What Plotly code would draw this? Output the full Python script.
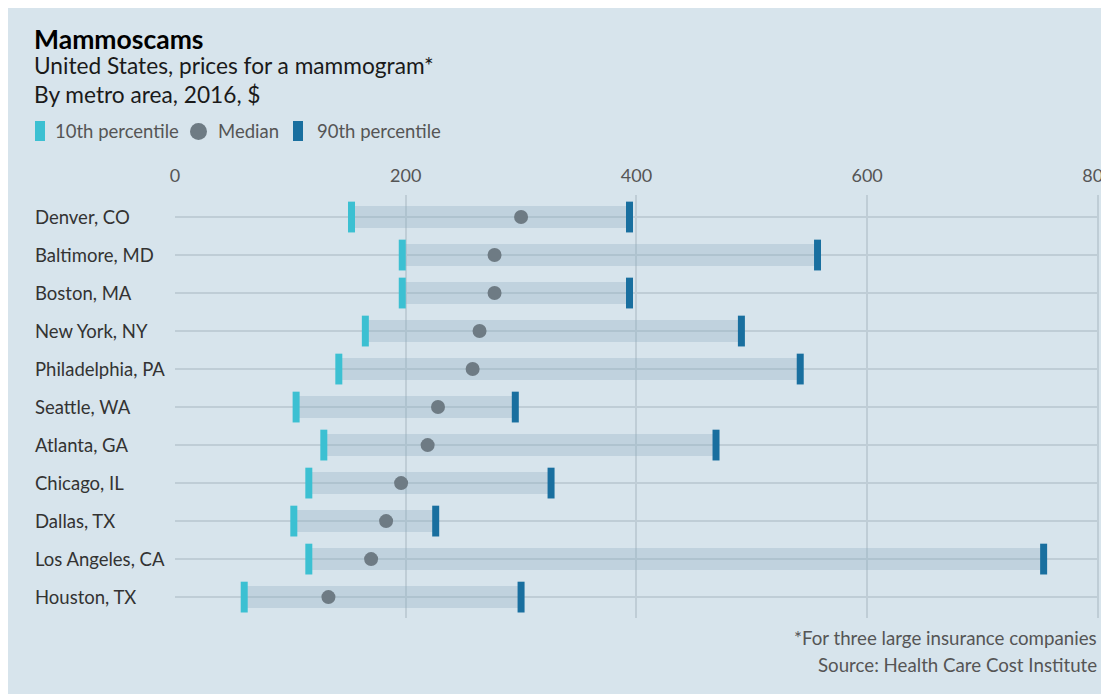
import plotly.graph_objects as go

cities = ["Denver, CO", "Baltimore, MD", "Boston, MA", "New York, NY", "Philadelphia, PA",
          "Seattle, WA", "Atlanta, GA", "Chicago, IL", "Dallas, TX", "Los Angeles, CA", "Houston, TX"]
p10 = [153, 197, 197, 165, 142, 105, 129, 116, 103, 116, 60]
median = [300, 277, 277, 264, 258, 228, 219, 196, 183, 170, 133]
p90 = [394, 557, 394, 491, 542, 295, 469, 326, 226, 753, 300]
x_ticks = [0, 200, 400, 600, 800]

BG = "#d7e4ec"
GRID = "#bfcdd6"
CYAN = "#3cc0d2"
DARK = "#196f9f"
GREY = "#6e7b84"
BAND = "rgba(142,175,193,0.32)"
FONT = "Lato"

W, H = 1093, 686
ML, MR, MT, MB = 167, 2, 187, 76
PW, PH = W - ML - MR, H - MT - MB

def xp(px):
    return (px - ML) / PW

def yp(py):
    return (H - MB - py) / PH

ypos = list(range(len(cities)))

fig = go.Figure()
fig.add_trace(go.Bar(
    y=ypos, x=[b - a for a, b in zip(p10, p90)], base=p10, orientation="h",
    width=0.58, marker=dict(color=BAND, line=dict(width=0)), hoverinfo="skip",
    showlegend=False))
fig.add_trace(go.Scatter(
    y=ypos, x=p10, mode="markers", showlegend=False,
    marker=dict(symbol="line-ns", size=22, line=dict(width=7, color=CYAN))))
fig.add_trace(go.Scatter(
    y=ypos, x=p90, mode="markers", showlegend=False,
    marker=dict(symbol="line-ns", size=22, line=dict(width=7, color=DARK))))
fig.add_trace(go.Scatter(
    y=ypos, x=median, mode="markers", showlegend=False,
    marker=dict(symbol="circle", size=14, color=GREY, line=dict(width=0))))

annotations = []
for i, c in enumerate(cities):
    annotations.append(dict(text=c, xref="paper", yref="y", x=xp(25), y=i,
                            xanchor="left", yanchor="middle", showarrow=False,
                            font=dict(family=FONT, size=18.5, color="#333333")))

annotations += [
    dict(text="<b>Mammoscams</b>", xref="paper", yref="paper", x=xp(24), y=yp(31),
         xanchor="left", yanchor="middle", showarrow=False,
         font=dict(family=FONT, size=26.5, color="#000000")),
    dict(text="United States, prices for a mammogram*", xref="paper", yref="paper",
         x=xp(24), y=yp(58), xanchor="left", yanchor="middle", showarrow=False,
         font=dict(family=FONT, size=22.7, color="#1a1a1a")),
    dict(text="By metro area, 2016, $", xref="paper", yref="paper",
         x=xp(24), y=yp(86), xanchor="left", yanchor="middle", showarrow=False,
         font=dict(family=FONT, size=22.7, color="#1a1a1a")),
    dict(text="10th percentile", xref="paper", yref="paper", x=xp(45), y=yp(123),
         xanchor="left", yanchor="middle", showarrow=False,
         font=dict(family=FONT, size=18.5, color="#555555")),
    dict(text="Median", xref="paper", yref="paper", x=xp(208), y=yp(123),
         xanchor="left", yanchor="middle", showarrow=False,
         font=dict(family=FONT, size=18.5, color="#555555")),
    dict(text="90th percentile", xref="paper", yref="paper", x=xp(307), y=yp(123),
         xanchor="left", yanchor="middle", showarrow=False,
         font=dict(family=FONT, size=18.5, color="#555555")),
    dict(text="*For three large insurance companies", xref="paper", yref="paper",
         x=xp(1091), y=yp(630), xanchor="right", yanchor="middle", showarrow=False,
         font=dict(family=FONT, size=18.7, color="#555555")),
    dict(text="Source: Health Care Cost Institute", xref="paper", yref="paper",
         x=xp(1091), y=yp(657), xanchor="right", yanchor="middle", showarrow=False,
         font=dict(family=FONT, size=18.7, color="#555555")),
]

shapes = [
    dict(type="rect", xref="paper", yref="paper", x0=xp(27), x1=xp(37),
         y0=yp(133), y1=yp(113), fillcolor=CYAN, line=dict(width=0)),
    dict(type="circle", xref="paper", yref="paper", x0=xp(182), x1=xp(199),
         y0=yp(132), y1=yp(115), fillcolor=GREY, line=dict(width=0)),
    dict(type="rect", xref="paper", yref="paper", x0=xp(285), x1=xp(295),
         y0=yp(133), y1=yp(113), fillcolor=DARK, line=dict(width=0)),
]

fig.update_layout(
    width=W, height=H, autosize=False,
    margin=dict(l=ML, r=MR, t=MT, b=MB),
    paper_bgcolor=BG, plot_bgcolor=BG,
    bargap=0, showlegend=False,
    annotations=annotations, shapes=shapes,
    xaxis=dict(range=[0, 801], side="top", tickvals=x_ticks, automargin=False,
               showgrid=True, gridcolor=GRID, gridwidth=2, zeroline=False,
               showline=False, ticks="", tickfont=dict(family=FONT, size=18, color="#555555"),
               ticklabelstandoff=8, ticklabeloverflow="allow", fixedrange=True),
    yaxis=dict(range=[10.55, -0.58], tickvals=ypos, showticklabels=False,
               automargin=False,
               showgrid=True, gridcolor=GRID, gridwidth=2, zeroline=False,
               showline=False, ticks="", fixedrange=True),
)

fig.write_html("out.html")
